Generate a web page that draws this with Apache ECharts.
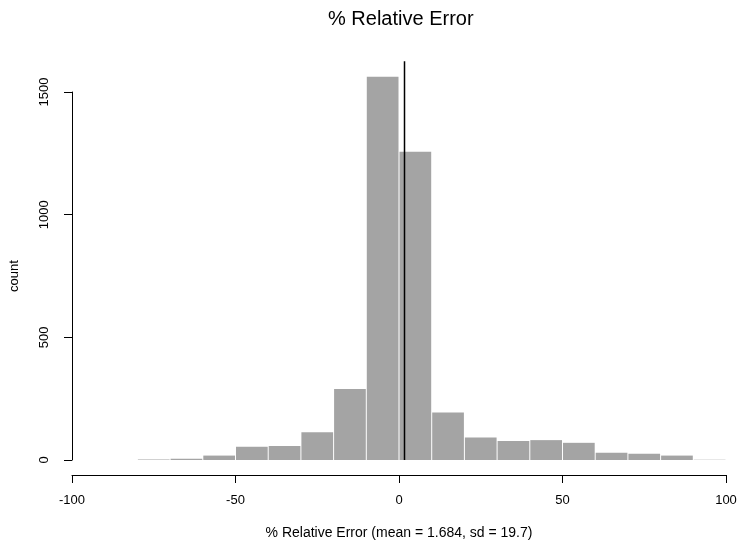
<!DOCTYPE html>
<html>
<head>
<meta charset="utf-8">
<script src="https://cdn.jsdelivr.net/npm/echarts@6/dist/echarts.min.js"></script>
<style>html,body{margin:0;padding:0;background:#fff;}#c{width:740px;height:545px;}</style>
</head>
<body>
<div id="c"></div>
<script>
// bin edges (left) and counts
var binLefts = [-80,-70,-60,-50,-40,-30,-20,-10,0,10,20,30,40,50,60,70,80,90];
var binWidth = 10;
var counts = [2,5,18,54,57,113,289,1562,1256,194,92,77,81,70,30,25,18,1];
var meanValue = 1.684;
var sdValue = 19.7;
var meanLineTop = 1625;
var xTicks = [-100,-50,0,50,100];
var yTicks = [0,500,1000,1500];

var bins = binLefts.map(function(l,i){ return [l, l+binWidth, counts[i]]; });
var FONT = '"Liberation Sans", Arial, sans-serif';

var chart = echarts.init(document.getElementById('c'));
chart.setOption({
  animation:false,
  backgroundColor:'#fff',
  title:{
    text:'% Relative Error', left:323, top:4,
    textStyle:{fontFamily:FONT,fontSize:20,fontWeight:'normal',color:'#000'}
  },
  grid:{left:71,right:14,top:92,bottom:85},
  xAxis:{
    type:'value', min:xTicks[0], max:xTicks[xTicks.length-1], interval:50,
    offset:15,
    name:'% Relative Error (mean = '+meanValue+', sd = '+sdValue+')',
    nameLocation:'middle', nameGap:51,
    nameTextStyle:{fontFamily:FONT,fontSize:14,color:'#000'},
    axisLine:{show:true,onZero:false,lineStyle:{color:'#000',width:1}},
    axisTick:{show:true,length:8,lineStyle:{color:'#000'}},
    axisLabel:{fontFamily:FONT,fontSize:13,color:'#000',margin:19,formatter:function(v){return String(v);}},
    splitLine:{show:false}
  },
  yAxis:{
    type:'value', min:yTicks[0], max:yTicks[yTicks.length-1], interval:500,
    name:'count', nameLocation:'middle', nameGap:51, nameRotate:90,
    nameTextStyle:{fontFamily:FONT,fontSize:13,color:'#000'},
    axisLine:{show:true,onZero:false,lineStyle:{color:'#000',width:1}},
    axisTick:{show:true,length:8,lineStyle:{color:'#000'}},
    axisLabel:{fontFamily:FONT,fontSize:13,color:'#000',rotate:90,margin:21,formatter:function(v){return String(v);}},
    splitLine:{show:false}
  },
  series:[
    {
      type:'custom',
      clip:false,
      data:bins,
      renderItem:function(params,api){
        var p0 = api.coord([api.value(0), 0]);
        var p1 = api.coord([api.value(1), api.value(2)]);
        return {
          type:'rect',
          shape:{x:p0[0]+0.5, y:p1[1], width:p1[0]-p0[0]-1, height:p0[1]-p1[1]},
          style:{fill:'#a4a4a4', stroke:null}
        };
      }
    },
    {
      type:'line',
      clip:false,
      symbol:'none',
      data:[[meanValue,0],[meanValue,meanLineTop]],
      lineStyle:{color:'#000',width:1.5}
    }
  ]
});
</script>
</body>
</html>
